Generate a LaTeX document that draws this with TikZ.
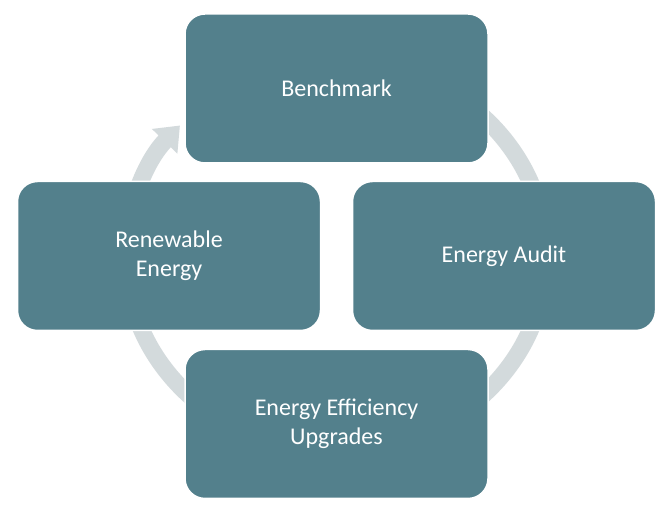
\documentclass[tikz,border=0pt]{standalone}
\usepackage{fontspec}
\setmainfont{Carlito}
\usetikzlibrary{arrows.meta,calc}
\definecolor{boxc}{HTML}{53808C}
\definecolor{arcc}{HTML}{D3DADC}
\begin{document}
\begin{tikzpicture}[x=1pt,y=1pt,
  stepbox/.style={draw=white,line width=1.5pt,fill=boxc,rounded corners=20pt,minimum width=303pt,minimum height=149pt,text=white,font=\fontsize{24}{29}\selectfont,align=center,inner sep=0pt}]
\useasboundingbox (0,0) rectangle (667,508);
\fill[white] (0,0) rectangle (667,508);
\coordinate (c) at (336,252);
\draw[arcc,line width=17pt,-{Triangle[width=34pt,length=22pt]}] ($(c)+(0,195)$) arc[start angle=90,end angle=-222,x radius=210,y radius=195];
\node[stepbox] (b) at (336.5,419.5) {Benchmark};
\node[stepbox] (a) at (504,252) {Energy Audit};
\node[stepbox] (r) at (169,252) {Renewable\\Energy};
\node[stepbox] (u) at (336.5,84) {Energy Efficiency\\Upgrades};
\end{tikzpicture}
\end{document}
